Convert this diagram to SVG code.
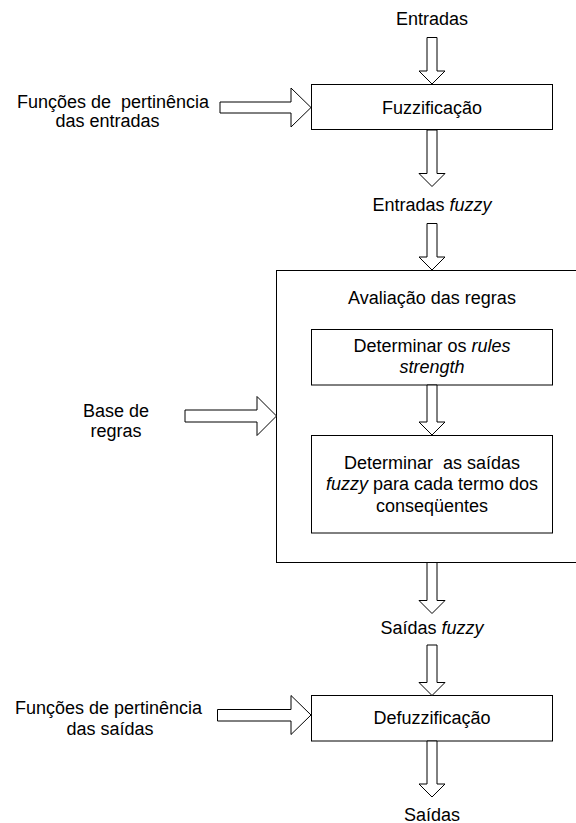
<svg xmlns="http://www.w3.org/2000/svg" width="576" height="823" viewBox="0 0 576 823">
<style>
.box{fill:#fff;stroke:#000;stroke-width:1}
.arr{fill:#fff;stroke:#000;stroke-width:1;stroke-linejoin:miter}
text{font-family:"Liberation Sans",Arial,sans-serif;font-size:18px;fill:#000}
.c{text-anchor:middle}
.i{font-style:italic}
</style>
<rect width="576" height="823" fill="#fff"/>
<g id="avaliacao">
<rect class="box" x="276.5" y="270.5" width="320" height="292"/>
<text class="c" x="432" y="304">Avaliação das regras</text>
</g>
<g id="fuzzificacao">
<rect class="box" x="311.5" y="84.5" width="241" height="45"/>
<text class="c" x="432" y="113.5">Fuzzificação</text>
</g>
<g id="rules-strength">
<rect class="box" x="311.5" y="329.5" width="241" height="55.5"/>
<text class="c" x="432" y="352">Determinar os <tspan class="i">rules</tspan></text>
<text class="c i" x="432" y="372.5">strength</text>
</g>
<g id="saidas-fuzzy-box">
<rect class="box" x="311.5" y="435.5" width="241" height="97.5"/>
<text class="c" x="432" y="468.5" xml:space="preserve">Determinar  as saídas</text>
<text class="c" x="432" y="490"><tspan class="i">fuzzy</tspan> para cada termo dos</text>
<text class="c" x="432" y="511.5">conseqüentes</text>
</g>
<g id="defuzzificacao">
<rect class="box" x="311.5" y="695.5" width="241" height="45.5"/>
<text class="c" x="432" y="724">Defuzzificação</text>
</g>
<g id="labels">
<text class="c" x="432" y="24.5">Entradas</text>
<text x="17" y="108" xml:space="preserve">Funções de  pertinência</text>
<text class="c" x="107.5" y="127">das entradas</text>
<text class="c" x="432" y="210.5">Entradas <tspan class="i">fuzzy</tspan></text>
<text class="c" x="116" y="416.5">Base de</text>
<text class="c" x="116" y="437">regras</text>
<text class="c" x="432" y="633.5">Saídas <tspan class="i">fuzzy</tspan></text>
<text x="15" y="713.5">Funções de pertinência</text>
<text class="c" x="110" y="734.5">das saídas</text>
<text class="c" x="432" y="820.5">Saídas</text>
</g>
<g id="connectors">
<polygon class="arr" points="427,37.5 437,37.5 437,71 445,71 432,84 419,71 427,71"/>
<polygon class="arr" points="427,130 437,130 437,173.5 445,173.5 432,186.5 419,173.5 427,173.5"/>
<polygon class="arr" points="427,223.5 437,223.5 437,257 445,257 432,270 419,257 427,257"/>
<polygon class="arr" points="427,385 437,385 437,422 445,422 432,435 419,422 427,422"/>
<polygon class="arr" points="427,562.5 437,562.5 437,600.5 445,600.5 432,613.5 419,600.5 427,600.5"/>
<polygon class="arr" points="427,645 437,645 437,682.5 445,682.5 432,695.5 419,682.5 427,682.5"/>
<polygon class="arr" points="427,741 437,741 437,784 445,784 432,797 419,784 427,784"/>
<polygon class="arr" points="220,102 291,102 291,88 311,107.5 291,127 291,113 220,113"/>
<polygon class="arr" points="185,410 257,410 257,396.5 276.5,416 257,435.5 257,422 185,422"/>
<polygon class="arr" points="217.5,709.5 291,709.5 291,695.5 311,715 291,734.5 291,721 217.5,721"/>
</g>
</svg>
